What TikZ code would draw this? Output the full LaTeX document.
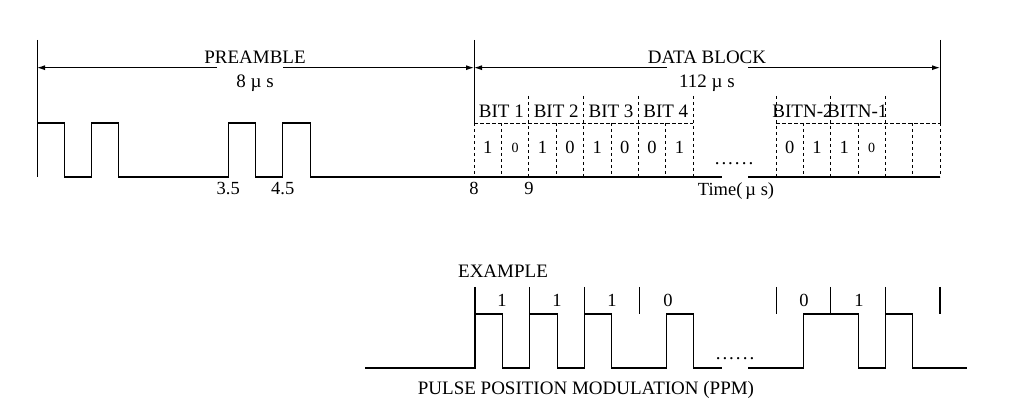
\documentclass[tikz,border=0pt]{standalone}
\usepackage{fontspec}
\setmainfont{Liberation Serif}
\usetikzlibrary{arrows.meta}
\begin{document}
\begin{tikzpicture}[x=1pt,y=-1pt,
  wave/.style={line width=1.1pt, line join=miter},
  gridln/.style={line width=0.9pt, dash pattern=on 3.5pt off 2.5pt},
  dimln/.style={line width=1pt},
  tipL/.style={{Latex[length=8pt,width=5pt]}-},
  tipR/.style={-{Latex[length=8pt,width=5pt]}},
  lbl/.style={inner sep=0pt, anchor=base, font=\fontsize{19}{22}\selectfont},
  num/.style={inner sep=0pt, anchor=base, font=\fontsize{18.5}{22}\selectfont},
  sml/.style={inner sep=0pt, anchor=base, font=\fontsize{14}{16}\selectfont},
  dotsl/.style={inner sep=0pt, anchor=base, font=\fontsize{19}{22}\selectfont}]
\useasboundingbox (0,0) rectangle (1010,406);

% ---------- dimension lines ----------
\coordinate (pL) at (37,67.7);  \coordinate (pGl) at (217,67.7);
\coordinate (pGr) at (283,67.7); \coordinate (pR) at (474,67.7);
\coordinate (dL) at (474,67.7); \coordinate (dGl) at (667,67.7);
\coordinate (dGr) at (748,67.7); \coordinate (dR) at (940,67.7);
\draw[dimln,tipL] (pL) -- (pGl);
\draw[dimln,tipR] (pGr) -- (pR);
\draw[dimln,tipL] (dL) -- (dGl);
\draw[dimln,tipR] (dGr) -- (dR);
\node[lbl] (pre) at (255,63.3) {PREAMBLE};
\node[lbl] (pret) at (255,87.3) {8 µ s};
\node[lbl] (dat) at (707,63.3) {DATA BLOCK};
\node[lbl] (datt) at (707,87.3) {112 µ s};

% ---------- solid ticks ----------
\draw[dimln] (37,40) -- (37,177);
\draw[dimln] (474,40) -- (474,123);
\draw[dimln] (940,40) -- (940,123);

% ---------- preamble waveform ----------
\draw[wave] (37,123) -- (64.3,123) -- (64.3,177) -- (91.6,177) -- (91.6,123)
  -- (118.9,123) -- (118.9,177) -- (228.2,177) -- (228.2,123) -- (255.5,123)
  -- (255.5,177) -- (282.8,177) -- (282.8,123) -- (310.1,123) -- (310.1,177)
  -- (722,177);
\draw[wave] (748,177) -- (940,177);

% ---------- bit grid ----------
\draw[gridln] (474,123) -- (693.2,123);
\draw[gridln] (776,123) -- (940,123);
\foreach \x in {474,501.4,556.2,611,665.8,803.3,858,912.7,940}
  \draw[gridln] (\x,123) -- (\x,177);
\foreach \x in {528.8,583.6,638.4,693.2,776,830.7,885.3}
  \draw[gridln] (\x,96) -- (\x,177);

\node[lbl] (b1) at (501.4,117.3) {BIT 1};
\node[lbl] (b2) at (556.2,117.3) {BIT 2};
\node[lbl] (b3) at (611,117.3) {BIT 3};
\node[lbl] (b4) at (665.8,117.3) {BIT 4};
\node[lbl] (bn2) at (802.5,117.3) {BITN-2};
\node[lbl] (bn1) at (857.3,117.3) {BITN-1};

\node[num] (v1) at (487.7,154) {1};
\node[sml] (v2) at (515.1,153) {0};
\node[num] (v3) at (542.5,154) {1};
\node[num] (v4) at (569.9,154) {0};
\node[num] (v5) at (597.3,154) {1};
\node[num] (v6) at (624.7,154) {0};
\node[num] (v7) at (652.1,154) {0};
\node[num] (v8) at (679.5,154) {1};
\node[num] (w1) at (789.7,154) {0};
\node[num] (w2) at (817,154) {1};
\node[num] (w3) at (844.3,154) {1};
\node[sml] (w4) at (871.7,153) {0};

\node[dotsl] (dt1) at (734,165) {.\kern2pt.\kern2pt.\kern2pt.\kern2pt.\kern2pt.};

% ---------- time labels ----------
\node[num] (t35) at (228.2,195) {3.5};
\node[num] (t45) at (282.8,195) {4.5};
\node[num] (t8) at (474,195) {8};
\node[num] (t9) at (529,195) {9};
\node[num] (tm) at (736,195.5) {Time(\kern3pt µ s)};

% ---------- example ----------
\node[lbl] (ex) at (503,277.3) {EXAMPLE};
\draw[wave] (365,368) -- (475,368) -- (475,314) -- (502.4,314) -- (502.4,368)
  -- (529.8,368) -- (529.8,314) -- (557.1,314) -- (557.1,368) -- (584.5,368)
  -- (584.5,314) -- (611.9,314) -- (611.9,368) -- (666.7,368) -- (666.7,314)
  -- (693.3,314) -- (693.3,368) -- (722,368);
\draw[wave] (748,368) -- (803.3,368) -- (803.3,314) -- (858.3,314) -- (858.3,368)
  -- (885.3,368) -- (885.3,314) -- (912.7,314) -- (912.7,368) -- (967,368);
\foreach \x in {475,529.8,584.5,639.3,776.7,830.7,885.3,940}
  \draw[wave] (\x,287) -- (\x,314);

\node[num] (e1) at (502,306) {1};
\node[num] (e2) at (557,306) {1};
\node[num] (e3) at (612,306) {1};
\node[num] (e4) at (668,306) {0};
\node[num] (e5) at (804,306) {0};
\node[num] (e6) at (859,306) {1};
\node[dotsl] (dt2) at (735,359) {.\kern2pt.\kern2pt.\kern2pt.\kern2pt.\kern2pt.};

\node[lbl] (ppm) at (586,394.3) {PULSE POSITION MODULATION (PPM)};
\end{tikzpicture}
\end{document}
